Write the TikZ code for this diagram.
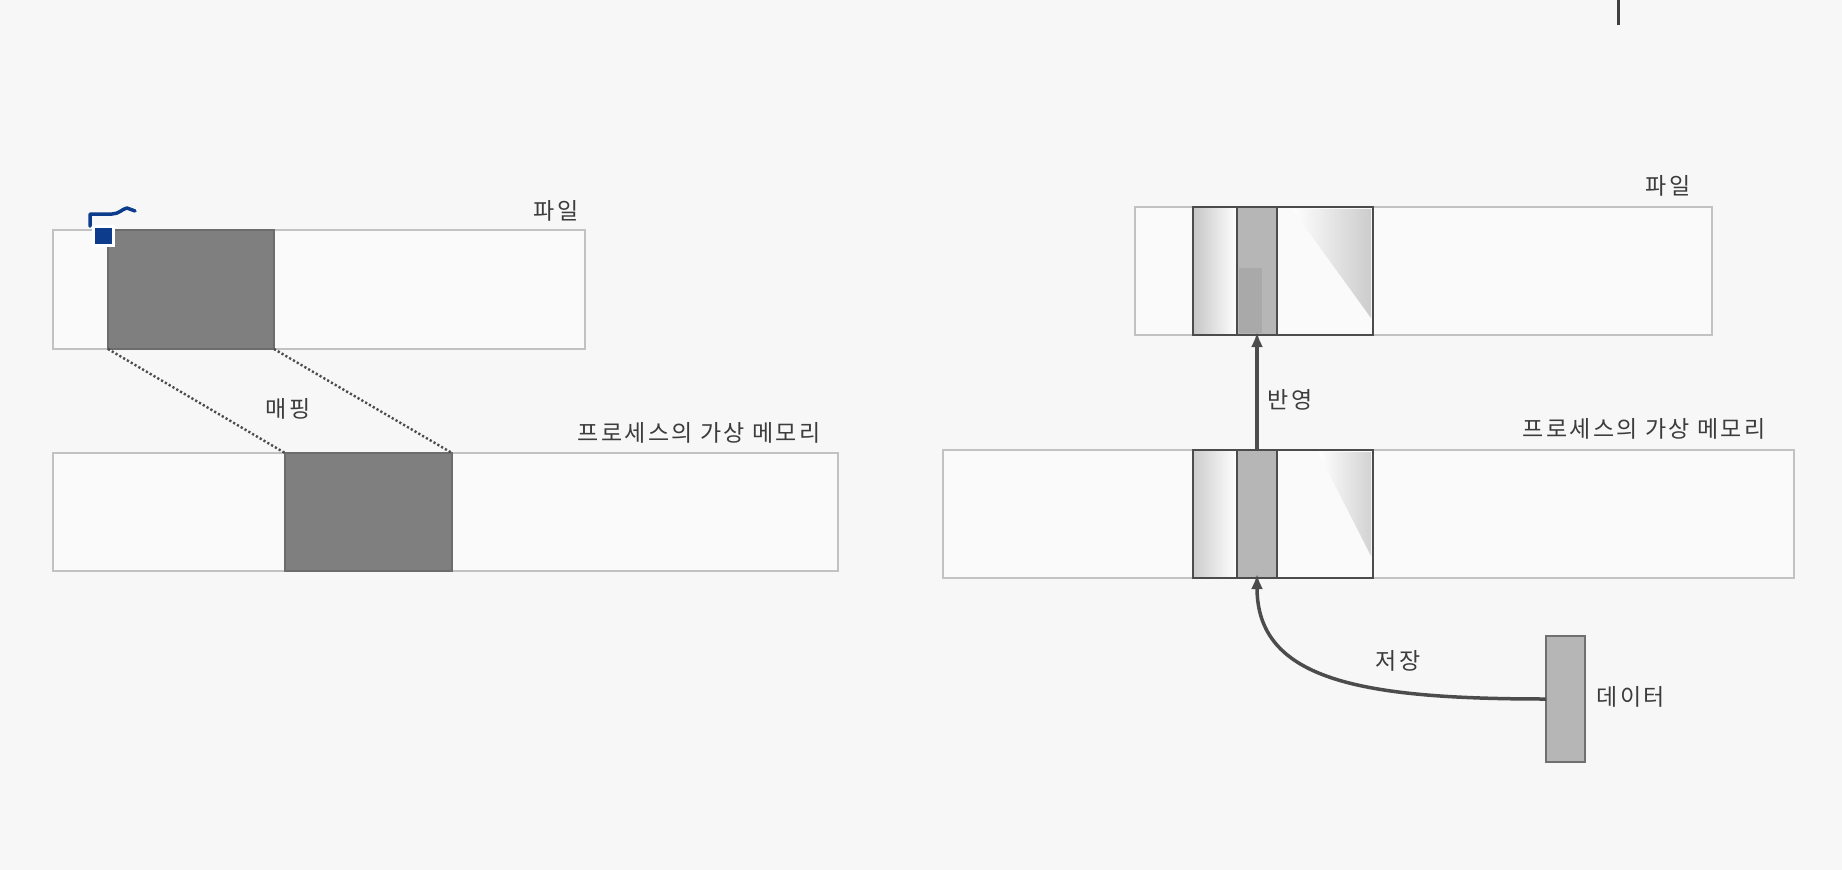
\documentclass[tikz,border=0pt]{standalone}
\usepackage{fontspec}
\newfontfamily\kr{Noto Sans CJK KR}[LetterSpace=10]
\usetikzlibrary{arrows.meta}
\definecolor{bg}{HTML}{F7F7F7}
\definecolor{barfill}{HTML}{FAFAFA}
\definecolor{barline}{HTML}{C2C2C2}
\definecolor{dark}{HTML}{7F7F7F}
\definecolor{mid}{HTML}{B6B6B6}
\definecolor{midd}{HTML}{A9A9A9}
\definecolor{edge}{HTML}{4C4C4C}
\definecolor{txt}{HTML}{3C3C3C}
\definecolor{cursor}{HTML}{0D3C8C}
\tikzset{
  bar/.style={rectangle, draw=barline, fill=barfill, line width=2pt, inner sep=0pt, outer sep=0pt},
  darkblk/.style={rectangle, fill=dark, draw=dark!85!black, line width=1.5pt, inner sep=0pt, outer sep=0pt},
  seg/.style={rectangle, draw=edge, line width=2.5pt, inner sep=0pt, outer sep=0pt},
  lbl/.style={font=\kr\fontsize{23pt}{26pt}\selectfont, text=txt, inner sep=0pt},
  conn/.style={draw=edge, line width=3.5pt, -{Latex[length=15pt,width=12pt]}},
  mapline/.style={draw=edge, line width=2.4pt, dash pattern=on 2.2pt off 2.2pt}
}
\begin{document}
\begin{tikzpicture}[x=1pt,y=-1pt]
\useasboundingbox (0,0) rectangle (1842,870);
\fill[bg] (0,0) rectangle (1842,870);

% ---------- left half ----------
\node[bar, minimum width=532pt, minimum height=119pt] (lfile) at (319,289.5) {};
\node[darkblk, minimum width=166pt, minimum height=119pt] (ldarkf) at (191,289.5) {};
\node[bar, minimum width=785pt, minimum height=118pt] (lmem) at (445.5,512) {};
\node[darkblk, minimum width=167pt, minimum height=118pt] (ldarkm) at (368.5,512) {};

\draw[mapline] (ldarkf.south west) -- (ldarkm.north west);
\draw[mapline] (ldarkf.south east) -- (ldarkm.north east);

\node[lbl] (lfilelbl) at (556,211) {파일};
\node[lbl] (maplbl) at (288,409) {매핑};
\node[lbl] (lmemlbl) at (699,433) {프로세스의 가상 메모리};

% cursor mark
\node[rectangle, fill=cursor, draw=white, line width=3pt, minimum width=20pt, minimum height=19pt, inner sep=0pt] (cur) at (103,236) {};
\draw[cursor, line width=3.5pt, line cap=round, line join=round]
  (90,226) -- (90,214) -- (112,214) .. controls (119,214) and (122,209) .. (127,208) -- (135,211);

% ---------- right half ----------
\node[bar, minimum width=577pt, minimum height=128pt] (rfile) at (1423.5,271) {};
\node[seg, left color=gray!45, right color=white, minimum width=44pt, minimum height=128pt] (rfa) at (1215,271) {};
\node[seg, fill=mid, minimum width=40pt, minimum height=128pt] (rfb) at (1257,271) {};
\fill[midd] (1239,268) rectangle (1262,333);
\draw[edge, line width=2.5pt] (rfb.north west) rectangle (rfb.south east);
\node[seg, fill=barfill, minimum width=96pt, minimum height=128pt] (rfc) at (1325,271) {};
\shade[left color=white, right color=gray!40] (1292,209) -- (1371,209) -- (1371,318) -- cycle;
\draw[edge, line width=2.5pt] (rfc.north west) rectangle (rfc.south east);

\node[bar, minimum width=851pt, minimum height=128pt] (rmem) at (1368.5,514) {};
\node[seg, left color=gray!40, right color=white, minimum width=44pt, minimum height=128pt] (rma) at (1215,514) {};
\node[seg, fill=mid, minimum width=40pt, minimum height=128pt] (rmb) at (1257,514) {};
\node[seg, fill=barfill, minimum width=96pt, minimum height=128pt] (rmc) at (1325,514) {};
\shade[left color=white, right color=gray!35] (1318,452) -- (1371,452) -- (1371,556) -- cycle;
\draw[edge, line width=2.5pt] (rmc.north west) rectangle (rmc.south east);

\node[rectangle, fill=mid, draw=edge!80, line width=2pt, minimum width=39pt, minimum height=126pt, inner sep=0pt, outer sep=0pt] (data) at (1565.5,699) {};

\draw[conn] (rmb.north) -- ([yshift=3pt]rfb.south);
\draw[conn] (data.west) .. controls (1360,699) and (1257,680) .. ([yshift=4pt]rmb.south);

\node[lbl] (rfilelbl) at (1668,186) {파일};
\node[lbl] (reflbl) at (1290,400) {반영};
\node[lbl] (rmemlbl) at (1644,429) {프로세스의 가상 메모리};
\node[lbl] (savelbl) at (1398,661) {저장};
\node[lbl] (datalbl) at (1631,697) {데이터};

% top-right tick
\coordinate (tickA) at (1618,0);
\coordinate (tickB) at (1618,25);
\draw[black!75, line width=3pt] (tickA) -- (tickB);
\end{tikzpicture}
\end{document}
